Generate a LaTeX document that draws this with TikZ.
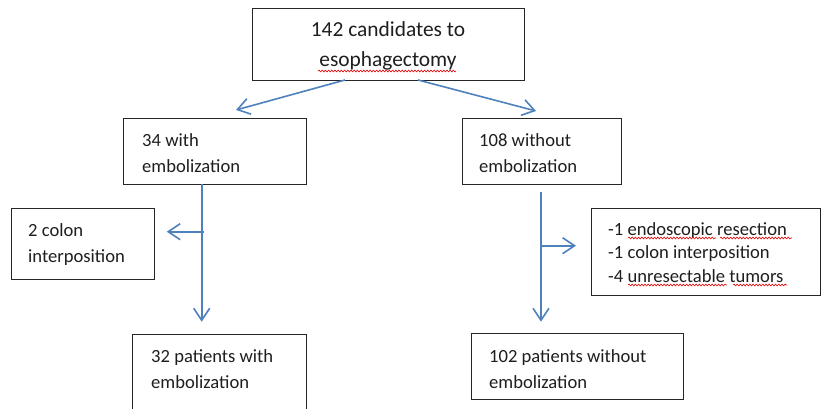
\documentclass[tikz,border=0pt]{standalone}
\usepackage{fontspec}
\setmainfont{Carlito}
\usetikzlibrary{arrows.meta,decorations.pathmorphing}
\definecolor{flowblue}{RGB}{79,129,189}
\definecolor{txtcol}{RGB}{30,30,30}
\begin{document}
\begin{tikzpicture}[x=1pt,y=-1pt,
  box/.style={draw=black!85, line width=1.1pt, inner sep=0pt, anchor=north west},
  txt/.style={anchor=base west, inner sep=0pt, align=left, text=txtcol, font=\fontsize{18.6}{26}\selectfont},
  txtsm/.style={txt, font=\fontsize{18.6}{23.5}\selectfont},
  toptxt/.style={anchor=base, inner sep=0pt, align=center, text=txtcol, font=\fontsize{21.4}{30}\selectfont},
  flow/.style={draw=flowblue, line width=1.6pt, -{Straight Barb[length=12pt,width=16pt,line width=1.6pt]}},
  wav/.style={draw=red!90!black, line width=0.6pt, decorate, decoration={snake, amplitude=0.9pt, segment length=3.2pt}}]
\useasboundingbox (0,0) rectangle (821,409);

% boxes
\node[box, minimum width=272pt, minimum height=72pt] (top) at (252,8) {};
\node[box, minimum width=183pt, minimum height=66pt] (emb) at (123,118) {};
\node[box, minimum width=159pt, minimum height=66pt] (noemb) at (462,118) {};
\node[box, minimum width=143pt, minimum height=71pt] (colon) at (11,208) {};
\node[box, minimum width=229pt, minimum height=87pt] (excl) at (591,208) {};
\node[box, minimum width=174pt, minimum height=81pt] (final1) at (132,334) {};
\node[box, minimum width=212pt, minimum height=66pt] (final2) at (471,333) {};

% texts (anchor = baseline of the last line)
\node[toptxt] (ttop) at (388,67) {142 candidates to\\esophagectomy};
\node[txt] (temb) at (142,172) {34 with\\embolization};
\node[txt] (tnoemb) at (479,172) {108 without\\embolization};
\node[txt] (tcolon) at (28,262) {2 colon\\interposition};
\node[txtsm] (texcl) at (608,282) {-1 endoscopic resection\\-1 colon interposition\\-4 unresectable tumors};
\node[txt] (tfinal1) at (151,388) {32 patients with\\embolization};
\node[txt] (tfinal2) at (489,388) {102 patients without\\embolization};

% spell-check underlines
\draw[wav] (318,71) -- (456,71);
\draw[wav] (628,238) -- (716,238);
\draw[wav] (720,238) -- (792,238);
\draw[wav] (628,285) -- (727,285);
\draw[wav] (733,285) -- (787,285);

% connector points
\coordinate (s1) at (345,80);
\coordinate (s2) at (418,80);
\coordinate (e1) at (236,110);
\coordinate (e2) at (536,111);
\coordinate (l0) at (201.7,184);
\coordinate (l1) at (201.7,321.7);
\coordinate (lb0) at (204,231.7);
\coordinate (lb1) at (166.7,231.7);
\coordinate (r0) at (541,191.7);
\coordinate (r1) at (541,321.7);
\coordinate (rb0) at (541,245.7);
\coordinate (rb1) at (576,245.7);

\draw[flow] (s1) -- (e1);
\draw[flow] (s2) -- (e2);
\draw[flow] (l0) -- (l1);
\draw[flow] (lb0) -- (lb1);
\draw[flow] (r0) -- (r1);
\draw[flow] (rb0) -- (rb1);
\end{tikzpicture}
\end{document}
